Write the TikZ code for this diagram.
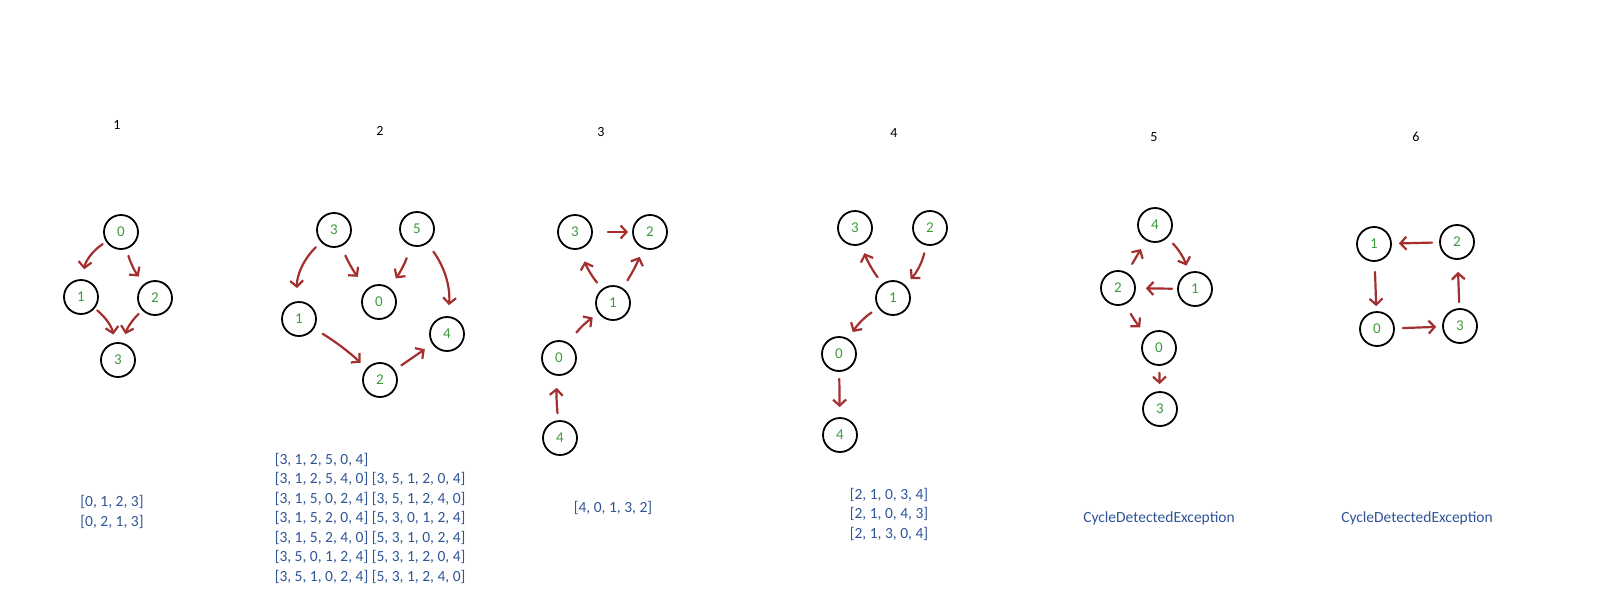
\documentclass[tikz,border=0pt]{standalone}
\usepackage{fontspec}
\setmainfont{Carlito}
\usetikzlibrary{arrows.meta}
\definecolor{arrowred}{HTML}{A3302E}
\definecolor{numgreen}{HTML}{3C9A3C}
\definecolor{listblue}{HTML}{2F5597}

\begin{document}
\begin{tikzpicture}[x=1pt,y=1pt,
  vert/.style={circle,draw,line width=1.8pt,minimum size=34pt,inner sep=0pt,text=numgreen,font=\fontsize{15}{18}\selectfont},
  link/.style={draw=arrowred,line width=2.2pt,line cap=round,-{Straight Barb[length=6pt,width=13pt]}},
  order/.style={text=listblue,align=left,font=\fontsize{15.5}{19.5}\selectfont},
  number/.style={font=\fontsize{14}{16}\selectfont}]
\useasboundingbox (0,0) rectangle (1600,-600);

% 1
\node[number] (t1) at (117,-125) {1};
\node[vert] (a0) at (121,-232) {0};
\node[vert] (a1) at (81,-297) {1};
\node[vert] (a2) at (155,-298) {2};
\node[vert] (a3) at (118,-360) {3};
\draw[link,shorten <=4pt,shorten >=10pt] (a0) to[bend right=25] (a1);
\draw[link,shorten <=7pt,shorten >=9pt] (a0) to[bend right=10] (a2);
\draw[link,shorten <=3pt,shorten >=8pt] (a1) to[bend left=20] (a3);
\draw[link,shorten <=5pt,shorten >=9pt] (a2) to[bend right=15] (a3);
\node[order] (l1) at (112,-512) {[0, 1, 2, 3]\\{}[0, 2, 1, 3]};

% 2
\node[number] (t2) at (380,-131) {2};
\node[vert] (b3) at (334,-230) {3};
\node[vert] (b5) at (417,-229) {5};
\node[vert] (b0) at (379,-302) {0};
\node[vert] (b1) at (299,-319) {1};
\node[vert] (b4) at (447,-334) {4};
\node[vert] (b2) at (380,-380) {2};
\draw[link,shorten <=7pt,shorten >=13pt] (b3) to[bend right=25] (b1);
\draw[link,shorten <=10pt,shorten >=15pt] (b3) to[bend right=8] (b0);
\draw[link,shorten <=13pt,shorten >=11pt] (b5) to[bend left=8] (b0);
\draw[link,shorten <=10pt,shorten >=11pt] (b5) to[bend left=20] (b4);
\draw[link,shorten <=10pt,shorten >=8pt] (b1) to[bend left=5] (b2);
\draw[link,shorten <=8pt,shorten >=9pt] (b2) -- (b4);
\node[order] (l2) at (370,-518) {[3, 1, 2, 5, 0, 4]\\{}[3, 1, 2, 5, 4, 0] [3, 5, 1, 2, 0, 4]\\{}[3, 1, 5, 0, 2, 4] [3, 5, 1, 2, 4, 0]\\{}[3, 1, 5, 2, 0, 4] [5, 3, 0, 1, 2, 4]\\{}[3, 1, 5, 2, 4, 0] [5, 3, 1, 0, 2, 4]\\{}[3, 5, 0, 1, 2, 4] [5, 3, 1, 2, 0, 4]\\{}[3, 5, 1, 0, 2, 4] [5, 3, 1, 2, 4, 0]};

% 3
\node[number] (t3) at (601,-132) {3};
\node[vert] (c3) at (575,-232) {3};
\node[vert] (c2) at (650,-232) {2};
\node[vert] (c1) at (613,-303) {1};
\node[vert] (c0) at (559,-358) {0};
\node[vert] (c4) at (560,-438) {4};
\draw[link,shorten <=7pt,shorten >=12pt] (c4) to[bend left=5] (c0);
\draw[link,shorten <=13pt,shorten >=7pt] (c0) to[bend left=10] (c1);
\draw[link,shorten <=8pt,shorten >=13pt] (c1) to[bend left=10] (c3);
\draw[link,shorten <=9pt,shorten >=9pt] (c1) to[bend right=5] (c2);
\draw[link,shorten <=15pt,shorten >=4pt] (c3) -- (c2);
\node[order] (l3) at (613,-508) {[4, 0, 1, 3, 2]};

% 4
\node[number] (t4) at (894,-133) {4};
\node[vert] (d3) at (855,-228) {3};
\node[vert] (d2) at (930,-228) {2};
\node[vert] (d1) at (893,-298) {1};
\node[vert] (d0) at (839,-354) {0};
\node[vert] (d4) at (840,-435) {4};
\draw[link,shorten <=8pt,shorten >=8pt] (d2) to[bend left=15] (d1);
\draw[link,shorten <=8pt,shorten >=9pt] (d1) to[bend left=8] (d3);
\draw[link,shorten <=8pt,shorten >=8pt] (d1) to[bend right=12] (d0);
\draw[link,shorten <=7pt,shorten >=10pt] (d0) -- (d4);
\node[order] (l4) at (889,-514) {[2, 1, 0, 3, 4]\\{}[2, 1, 0, 4, 3]\\{}[2, 1, 3, 0, 4]};

% 5
\node[number] (t5) at (1154,-137) {5};
\node[vert] (e4) at (1155,-225) {4};
\node[vert] (e2) at (1118,-288) {2};
\node[vert] (e1) at (1195,-289) {1};
\node[vert] (e0) at (1159,-348) {0};
\node[vert] (e3) at (1160,-409) {3};
\draw[link,shorten <=10pt,shorten >=10pt] (e2) -- (e4);
\draw[link,shorten <=8pt,shorten >=7pt] (e4) to[bend left=12] (e1);
\draw[link,shorten <=5pt,shorten >=10pt] (e1) -- (e2);
\draw[link,shorten <=11pt,shorten >=10pt] (e2) to[bend right=8] (e0);
\draw[link,shorten <=7pt,shorten >=7pt] (e0) -- (e3);
\node[order] (l5) at (1159,-518) {CycleDetectedException};

% 6
\node[number] (t6) at (1416,-137) {6};
\node[vert] (f1) at (1374,-244) {1};
\node[vert] (f2) at (1457,-242) {2};
\node[vert] (f0) at (1377,-329) {0};
\node[vert] (f3) at (1460,-326) {3};
\draw[link,shorten <=7pt,shorten >=7pt] (f2) -- (f1);
\draw[link,shorten <=10pt,shorten >=5pt] (f1) -- (f0);
\draw[link,shorten <=8pt,shorten >=6pt] (f0) -- (f3);
\draw[link,shorten <=6pt,shorten >=12pt] (f3) -- (f2);
\node[order] (l6) at (1417,-518) {CycleDetectedException};
\end{tikzpicture}
\end{document}
